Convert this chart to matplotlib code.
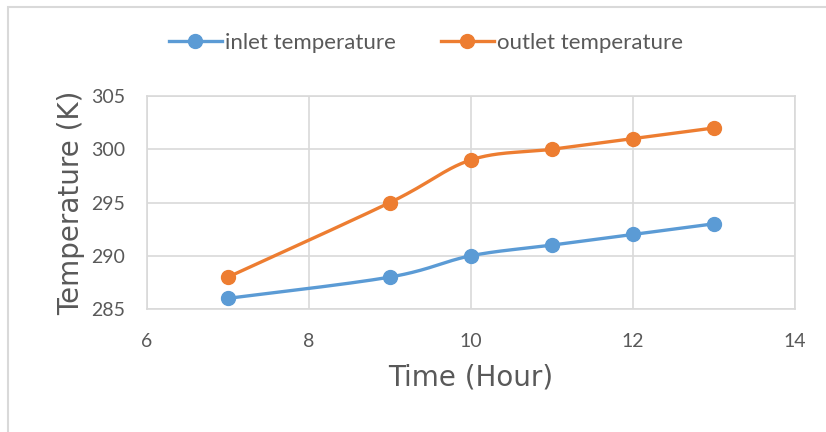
import numpy as np
import matplotlib
matplotlib.use("Agg")
import matplotlib.pyplot as plt
from matplotlib.patches import Rectangle

hours = [7, 9, 10, 11, 12, 13]
inlet_temp = [286, 288, 290, 291, 292, 293]
outlet_temp = [288, 295, 299, 300, 301, 302]
x_ticks = [6, 8, 10, 12, 14]
y_ticks = [285, 290, 295, 300, 305]

BLUE = "#5B9BD5"
ORANGE = "#ED7D31"
TEXT = "#595959"
GRID = "#D9D9D9"


def smooth(x, y, n=40):
    """Excel-style smoothed line (Catmull-Rom as cubic Bezier)."""
    x = np.asarray(x, float)
    y = np.asarray(y, float)
    px = np.concatenate([[x[0]], x, [x[-1]]])
    py = np.concatenate([[y[0]], y, [y[-1]]])
    xs, ys = [], []
    t = np.linspace(0, 1, n)
    for i in range(1, len(px) - 2):
        p0 = np.array([px[i], py[i]])
        p3 = np.array([px[i + 1], py[i + 1]])
        c1 = p0 + (np.array([px[i + 1], py[i + 1]]) - np.array([px[i - 1], py[i - 1]])) / 6
        c2 = p3 - (np.array([px[i + 2], py[i + 2]]) - p0) / 6
        b = ((1 - t) ** 3)[:, None] * p0 + (3 * (1 - t) ** 2 * t)[:, None] * c1 \
            + (3 * (1 - t) * t ** 2)[:, None] * c2 + (t ** 3)[:, None] * p3
        xs.append(b[:, 0])
        ys.append(b[:, 1])
    return np.concatenate(xs), np.concatenate(ys)


fig = plt.figure(figsize=(8.26, 4.32), dpi=100)
fig.patches.append(Rectangle((8 / 826, -0.01), 1.0, 1 - 7 / 432 + 0.01,
                             transform=fig.transFigure, fill=False,
                             edgecolor=GRID, linewidth=1.5))
ax = fig.add_axes([147 / 826, 1 - 309 / 432, 648 / 826, 213 / 432])

for vals, col, lab in [(inlet_temp, BLUE, "inlet temperature"),
                       (outlet_temp, ORANGE, "outlet temperature")]:
    sx, sy = smooth(hours, vals)
    ax.plot(sx, sy, color=col, lw=2.4, solid_capstyle="round", zorder=3)
    ax.plot(hours, vals, "o", color=col, ms=10, zorder=4)
    ax.plot([], [], "-o", color=col, lw=2.4, ms=10, label=lab)

ax.set_xlim(6, 14)
ax.set_ylim(285, 305)
ax.set_xticks(x_ticks)
ax.set_yticks(y_ticks)
ax.grid(True, color=GRID, lw=1.2)
ax.set_axisbelow(True)
for s in ax.spines.values():
    s.set_color(GRID)
    s.set_linewidth(1.2)
ax.tick_params(length=0, labelsize=14, labelcolor=TEXT)
for lbl in ax.get_xticklabels() + ax.get_yticklabels():
    lbl.set_family("Lato")
ax.tick_params(axis="x", pad=17)
ax.tick_params(axis="y", pad=16)

ax.set_xlabel("Time (Hour)", fontsize=20, color=TEXT, labelpad=10)
ax.set_ylabel("Temperature (K)", fontsize=20, color=TEXT, labelpad=4)

fig.legend(loc="center", bbox_to_anchor=(426 / 826, 1 - 43 / 432), ncol=2,
           frameon=False, prop={"family": "Lato", "size": 16},
           labelcolor=TEXT, handlelength=2.4, handletextpad=0.15,
           columnspacing=2.0)

fig.savefig("out.png", dpi=100)
